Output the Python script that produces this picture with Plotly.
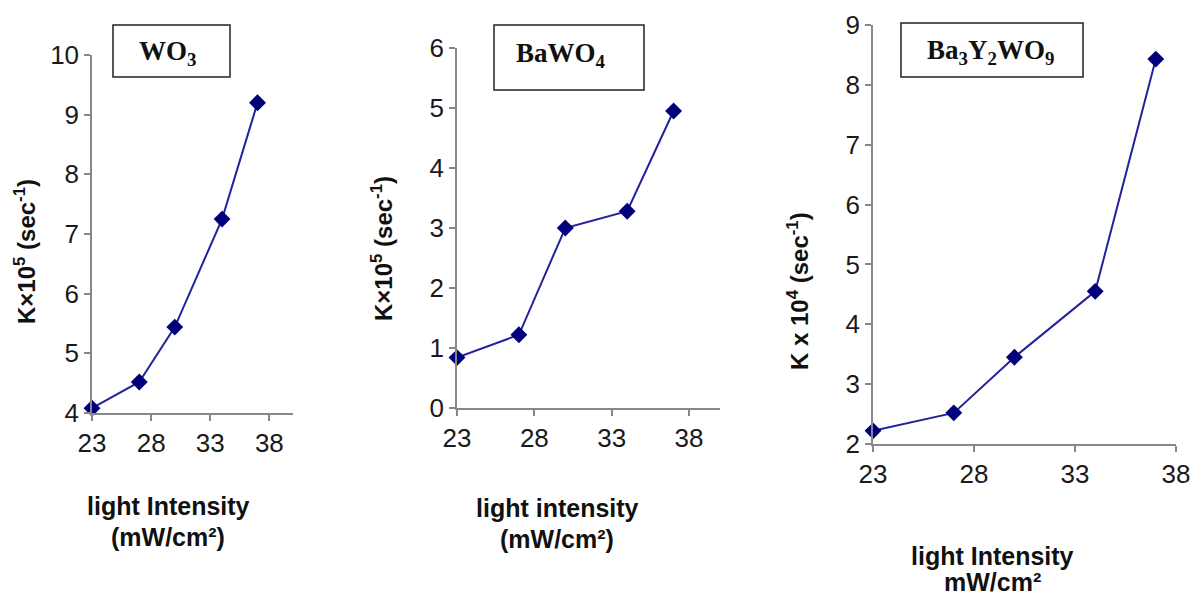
import plotly.graph_objects as go

# ---- data ----
intensity = [23, 27, 30, 34, 37]
k_wo3 = [4.08, 4.52, 5.44, 7.25, 9.2]
k_bawo4 = [0.84, 1.22, 3.0, 3.28, 4.95]
k_ba3y2wo9 = [2.22, 2.52, 3.45, 4.55, 8.43]

x_ticks = [23, 28, 33, 38]
y1_ticks = [4, 5, 6, 7, 8, 9, 10]
y2_ticks = [0, 1, 2, 3, 4, 5, 6]
y3_ticks = [2, 3, 4, 5, 6, 7, 8, 9]

panel_titles = ["WO<sub>3</sub>", "BaWO<sub>4</sub>", "Ba<sub>3</sub>Y<sub>2</sub>WO<sub>9</sub>"]
y_titles = ["K×10<sup>5</sup> (sec<sup>-1</sup>)", "K×10<sup>5</sup> (sec<sup>-1</sup>)",
            "K x 10<sup>4</sup> (sec<sup>-1</sup>)"]
x_titles = [["light Intensity", "(mW/cm²)"],
            ["light intensity", "(mW/cm²)"],
            ["light Intensity", "mW/cm²"]]

W, H = 1194, 596
LINE = "#22229a"
MARK = "#00007a"
AXC = "#888888"
SANS = "Liberation Sans, Arial, sans-serif"
SERIF = "Liberation Serif, Times New Roman, serif"


def px(x):
    return x / W


def py(y):
    return 1 - y / H


fig = go.Figure()
series = [k_wo3, k_bawo4, k_ba3y2wo9]
for i, ys in enumerate(series):
    sfx = "" if i == 0 else str(i + 1)
    fig.add_trace(go.Scatter(
        x=intensity, y=ys, mode="lines+markers",
        xaxis="x" + sfx, yaxis="y" + sfx,
        line=dict(color=LINE, width=2),
        marker=dict(symbol="diamond", size=13, color=MARK),
        cliponaxis=False, showlegend=False,
    ))

# axis geometry (pixels)
geo = [
    dict(x0=92, x1=293, y0=55, y1=413, xr=[23, 40], yr=[4, 10], yt=y1_ticks),
    dict(x0=457, x1=720, y0=48, y1=408, xr=[23, 40], yr=[0, 6], yt=y2_ticks),
    dict(x0=873, x1=1176, y0=25, y1=444, xr=[23, 38], yr=[2, 9], yt=y3_ticks),
]

common = dict(showline=True, linecolor=AXC, linewidth=1.5, ticks="outside",
              ticklen=6, tickcolor=AXC, tickwidth=1.5, showgrid=False,
              zeroline=False, tickfont=dict(family=SANS, size=26, color="#1a1a1a"),
              fixedrange=True, automargin=False)

layout = {}
for i, g in enumerate(geo):
    sfx = "" if i == 0 else str(i + 1)
    layout["xaxis" + sfx] = dict(domain=[px(g["x0"]), px(g["x1"])], range=g["xr"],
                                 anchor="y" + sfx, tickmode="array", tickvals=x_ticks,
                                 **common)
    layout["yaxis" + sfx] = dict(domain=[py(g["y1"]), py(g["y0"])], range=g["yr"],
                                 anchor="x" + sfx, tickmode="array", tickvals=g["yt"],
                                 **common)

fig.update_layout(**layout)

# title boxes
boxes = [(113, 25, 230, 77, 167, 53), (494, 25, 644, 90, 561, 55), (901, 23, 1083, 77, 990, 52)]
shapes = []
annotations = []
for (bx0, by0, bx1, by1, tx, ty), t in zip(boxes, panel_titles):
    shapes.append(dict(type="rect", xref="paper", yref="paper",
                       x0=px(bx0), x1=px(bx1), y0=py(by1), y1=py(by0),
                       line=dict(color="#222222", width=1.5), fillcolor="white"))
    annotations.append(dict(xref="paper", yref="paper", x=px(tx), y=py(ty),
                            text="<b>" + t + "</b>", showarrow=False,
                            font=dict(family=SERIF, size=27, color="#111111"),
                            xanchor="center", yanchor="middle"))

# y titles
ypos = [(25, 252), (382, 249), (798, 291)]
for (x, y), t in zip(ypos, y_titles):
    annotations.append(dict(xref="paper", yref="paper", x=px(x), y=py(y),
                            text="<b>" + t + "</b>", showarrow=False, textangle=-90,
                            font=dict(family=SANS, size=24, color="#111111"),
                            xanchor="center", yanchor="middle"))

# x titles
xpos = [(168, 506, 537), (557, 508, 539), (992, 556, 582)]
for (x, y1, y2), lines in zip(xpos, x_titles):
    for y, t in zip((y1, y2), lines):
        annotations.append(dict(xref="paper", yref="paper", x=px(x), y=py(y),
                                text="<b>" + t + "</b>", showarrow=False,
                                font=dict(family=SANS, size=25, color="#111111"),
                                xanchor="center", yanchor="middle"))

fig.update_layout(
    width=W, height=H, margin=dict(l=0, r=0, t=0, b=0, pad=0),
    paper_bgcolor="white", plot_bgcolor="white",
    shapes=shapes, annotations=annotations,
)

fig.write_html("out.html", config={"displayModeBar": False},
               post_script="document.body.style.margin='0';document.body.style.overflow='hidden';")
